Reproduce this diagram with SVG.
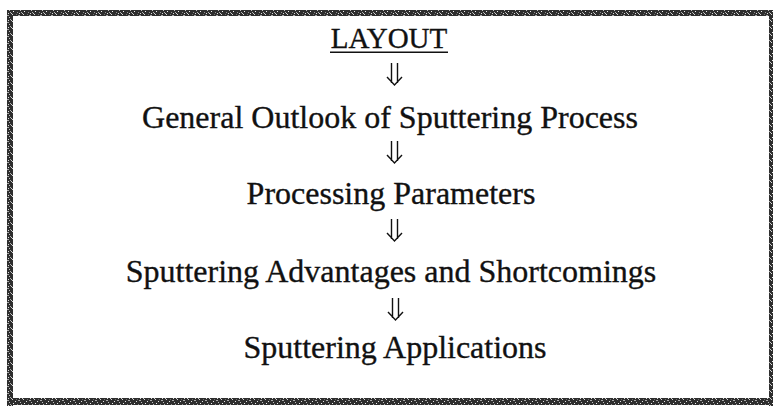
<svg xmlns="http://www.w3.org/2000/svg" width="776" height="412" viewBox="0 0 776 412">
  <defs>
    <pattern id="grain" x="0" y="0" width="11" height="7" patternUnits="userSpaceOnUse">
      <rect width="11" height="7" fill="#2e2e2e"/>
      <rect x="1" y="0" width="1" height="1" fill="#d8d8d8"/>
      <rect x="7" y="1" width="2" height="1" fill="#a8a8a8"/>
      <rect x="4" y="2" width="1" height="1" fill="#e0e0e0"/>
      <rect x="9" y="3" width="1" height="1" fill="#c0c0c0"/>
      <rect x="2" y="4" width="1" height="1" fill="#eeeeee"/>
      <rect x="6" y="5" width="1" height="1" fill="#909090"/>
      <rect x="0" y="6" width="1" height="1" fill="#cfcfcf"/>
      <rect x="10" y="5" width="1" height="1" fill="#b0b0b0"/>
      <rect x="5" y="0" width="1" height="1" fill="#707070"/>
      <rect x="8" y="6" width="1" height="1" fill="#dcdcdc"/>
    </pattern>
    <style>
      .t { font-family: "Liberation Serif", "Times New Roman", serif; font-size: 32px; fill: #111; stroke: #111; stroke-width: 0.35; text-anchor: middle; }
      .h { font-size: 29px; }
      .arr { fill: none; stroke: #111; stroke-width: 1.4; }
      .band { fill: url(#grain); }
    </style>
  </defs>
  <rect width="776" height="412" fill="#ffffff"/>
  <g id="frame">
    <rect class="band" x="7" y="10" width="766" height="6"/>
    <rect class="band" x="7" y="10" width="6" height="396"/>
    <rect class="band" x="769" y="10" width="4" height="396"/>
    <rect class="band" x="7" y="398" width="766" height="7"/>
  </g>
  <g id="layout">
    <text class="t h" x="389" y="48">LAYOUT</text>
    <rect x="330" y="51.5" width="118" height="1.5" fill="#111"/>
  </g>
  <g id="general">
    <text class="t" x="390" y="128">General Outlook of Sputtering Process</text>
  </g>
  <g id="processing">
    <text class="t" x="391" y="204">Processing Parameters</text>
  </g>
  <g id="advantages">
    <text class="t" x="391" y="282">Sputtering Advantages and Shortcomings</text>
  </g>
  <g id="applications">
    <text class="t" x="395" y="358">Sputtering Applications</text>
  </g>
  <g id="connectors">
    <path class="arr" d="M391.5 63V83M397.5 63V83M387 77L394.5 85L402 77"/>
    <path class="arr" d="M391.5 141V161M397.5 141V161M387 155L394.5 163L402 155"/>
    <path class="arr" d="M391.5 219V239M397.5 219V239M387 233L394.5 241L402 233"/>
    <path class="arr" d="M392.5 298V318M398.5 298V318M388 312L395.5 320L403 312"/>
  </g>
</svg>
